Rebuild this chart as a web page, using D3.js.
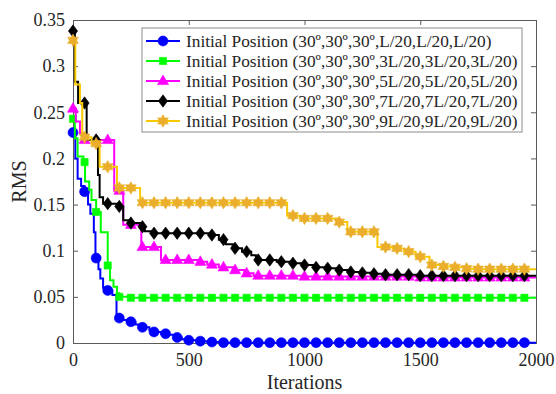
<!DOCTYPE html>
<html>
<head>
<meta charset="utf-8">
<script src="https://cdn.jsdelivr.net/npm/d3@7"></script>
<style>
  html, body { margin: 0; padding: 0; background: #fff; }
</style>
</head>
<body>
<svg id="chart" width="556" height="394" font-family="Liberation Serif" style="font-family: 'Liberation Serif'"></svg>
<script>
// Convergence of RMS error against iteration count for five starting poses.
// Each series is a best-so-far staircase: [iteration, RMS] at each drop.
const blueSteps = [
  [0, 0.228], [10, 0.200], [20, 0.178], [35, 0.170], [50, 0.164], [65, 0.150],
  [75, 0.140], [90, 0.120], [97, 0.092], [110, 0.080], [118, 0.070], [130, 0.060],
  [145, 0.057], [170, 0.052], [188, 0.027], [210, 0.025], [240, 0.023], [270, 0.020],
  [300, 0.017], [330, 0.014], [350, 0.012], [380, 0.010], [410, 0.009], [440, 0.006],
  [470, 0.004], [500, 0.003], [540, 0.002], [580, 0.001], [640, 0.0004]
];
const greenSteps = [
  [0, 0.243], [8, 0.222], [20, 0.202], [45, 0.196], [52, 0.175], [70, 0.166],
  [80, 0.155], [100, 0.142], [120, 0.120], [150, 0.084], [160, 0.068], [175, 0.061],
  [190, 0.054], [200, 0.050], [240, 0.049]
];
const magentaSteps = [
  [0, 0.254], [12, 0.240], [30, 0.227], [45, 0.220], [178, 0.165], [217, 0.128],
  [295, 0.104], [380, 0.090], [540, 0.088], [580, 0.085], [630, 0.082], [690, 0.079],
  [740, 0.0755], [780, 0.073], [1000, 0.072], [1500, 0.071]
];
const blackSteps = [
  [0, 0.338], [8, 0.283], [22, 0.260], [59, 0.220], [108, 0.182], [115, 0.158],
  [130, 0.151], [190, 0.148], [217, 0.133], [245, 0.130], [290, 0.126], [310, 0.121],
  [340, 0.119], [600, 0.117], [630, 0.112], [660, 0.107], [690, 0.1026], [730, 0.099],
  [770, 0.095], [790, 0.090], [880, 0.088], [940, 0.0864], [990, 0.0845], [1040, 0.082],
  [1100, 0.081], [1140, 0.079], [1190, 0.077], [1240, 0.076], [1290, 0.075],
  [1350, 0.074], [1500, 0.073]
];
const yellowSteps = [
  [0, 0.328], [10, 0.280], [30, 0.260], [40, 0.223], [80, 0.216], [115, 0.191],
  [190, 0.168], [290, 0.152], [925, 0.138], [980, 0.135], [1140, 0.131], [1185, 0.1205],
  [1315, 0.104], [1380, 0.1025], [1430, 0.099], [1480, 0.0935], [1540, 0.0845],
  [1600, 0.083], [1640, 0.082], [1690, 0.0805], [1750, 0.080]
];
const seriesLabels = [
  "Initial Position (30º,30º,30º,L/20,L/20,L/20)",
  "Initial Position (30º,30º,30º,3L/20,3L/20,3L/20)",
  "Initial Position (30º,30º,30º,5L/20,5L/20,5L/20)",
  "Initial Position (30º,30º,30º,7L/20,7L/20,7L/20)",
  "Initial Position (30º,30º,30º,9L/20,9L/20,9L/20)"
];
const iterTicks = [0, 500, 1000, 1500, 2000];
const rmsTicks = [0, 0.05, 0.1, 0.15, 0.2, 0.25, 0.3, 0.35];
const rmsTickLabels = ["0", "0.05", "0.1", "0.15", "0.2", "0.25", "0.3", "0.35"];
const iterMax = 2000;
const markerEvery = 50;

const FONT = "Liberation Serif";
const textColor = "#262626";
const margin = { left: 73, right: 20, top: 20, bottom: 51 };
const W = 556, H = 394;
const svg = d3.select("#chart");
const x = d3.scaleLinear().domain([0, iterMax]).range([margin.left, W - margin.right]);
const y = d3.scaleLinear().domain([0, 0.35]).range([H - margin.bottom, margin.top]);
const x0 = x.range()[0], x1 = x.range()[1], y0 = y.range()[0], y1 = y.range()[1];

// marker shapes
function hexagram(r) {
  const pts = [];
  for (let i = 0; i < 12; i++) {
    const a = -Math.PI / 2 + i * Math.PI / 6;
    const rr = i % 2 === 0 ? r : r / Math.sqrt(3);
    pts.push([rr * Math.cos(a), rr * Math.sin(a)]);
  }
  return "M" + pts.map(p => p[0].toFixed(2) + "," + p[1].toFixed(2)).join("L") + "Z";
}
const markerPaths = {
  circle: "M5,0A5,5 0 1,1 -5,0A5,5 0 1,1 5,0Z",
  square: "M-3.6,-3.6H3.6V3.6H-3.6Z",
  triangle: "M0,-6L5.5,3.6L-5.5,3.6Z",
  diamond: "M0,-6.2L4.6,0L0,6.2L-4.6,0Z",
  star: hexagram(6.2)
};

const series = [
  { steps: blueSteps, line: "#0000ff", fill: "#0000ff", marker: "circle" },
  { steps: greenSteps, line: "#00ff00", fill: "#00ff00", marker: "square" },
  { steps: magentaSteps, line: "#ff00ff", fill: "#ff00ff", marker: "triangle" },
  { steps: blackSteps, line: "#000000", fill: "#000000", marker: "diamond" },
  { steps: yellowSteps, line: "#f8c800", fill: "#eaae2c", marker: "star" }
];

// text helper: every label carries its own font settings
function styleText(sel, size) {
  return sel.attr("font-family", FONT).style("font-family", FONT)
    .attr("font-size", size).style("font-size", size + "px").attr("fill", textColor);
}

// axes box, ticks pointing inward on all four sides
const axisColor = "#5a5a5a";
const gx = svg.append("g").attr("transform", `translate(0,${y0})`)
  .call(d3.axisBottom(x).tickValues(iterTicks).tickSize(-5).tickPadding(10).tickFormat(d3.format("d")));
const gxTop = svg.append("g").attr("transform", `translate(0,${y1})`)
  .call(d3.axisTop(x).tickValues(iterTicks).tickSize(-5).tickFormat(""));
const gy = svg.append("g").attr("transform", `translate(${x0},0)`)
  .call(d3.axisLeft(y).tickValues(rmsTicks).tickSize(-5).tickPadding(8)
    .tickFormat((d, i) => rmsTickLabels[i]));
const gyRight = svg.append("g").attr("transform", `translate(${x1},0)`)
  .call(d3.axisRight(y).tickValues(rmsTicks).tickSize(-5).tickFormat(""));
[gx, gxTop, gy, gyRight].forEach(g => {
  g.attr("font-family", FONT).attr("font-size", 18);
  g.select(".domain").attr("stroke", axisColor).attr("stroke-width", 1);
  g.selectAll(".tick line").attr("stroke", axisColor);
  styleText(g.selectAll("text"), 18);
});

// series lines and markers
const plot = svg.append("g");
const bis = d3.bisector(d => d[0]).right;
const valueAt = (steps, t) => steps[Math.max(0, bis(steps, t) - 1)][1];
const markerIters = d3.range(0, iterMax, markerEvery);
const lineGen = d3.line().x(d => x(d[0])).y(d => y(d[1])).curve(d3.curveStepAfter);

series.forEach(s => {
  const pts = s.steps.concat([[iterMax, s.steps[s.steps.length - 1][1]]]);
  plot.append("path").attr("d", lineGen(pts))
    .attr("fill", "none").attr("stroke", s.line).attr("stroke-width", 2);
  plot.append("g").selectAll("path").data(markerIters).join("path")
    .attr("transform", t => `translate(${x(t)},${y(valueAt(s.steps, t))})`)
    .attr("d", markerPaths[s.marker])
    .attr("fill", s.fill).attr("stroke", s.fill).attr("stroke-width", 0.6);
});

// axis titles
styleText(svg.append("text"), 20).attr("x", (x0 + x1) / 2).attr("y", 389)
  .attr("text-anchor", "middle").text("Iterations");
styleText(svg.append("text"), 20).attr("transform", `translate(26,${(y0 + y1) / 2}) rotate(-90)`)
  .attr("text-anchor", "middle").text("RMS");

// legend
const lg = svg.append("g");
const lgX = 142, lgY = 28, lgW = 380, lgH = 104, rowH = 20;
lg.append("rect").attr("x", lgX).attr("y", lgY).attr("width", lgW).attr("height", lgH)
  .attr("fill", "#fff").attr("stroke", "#8c8c8c").attr("stroke-width", 1);
series.forEach((s, i) => {
  const cy = lgY + 13 + i * rowH;
  lg.append("line").attr("x1", lgX + 4).attr("x2", lgX + 38).attr("y1", cy).attr("y2", cy)
    .attr("stroke", s.line).attr("stroke-width", 2);
  lg.append("path").attr("transform", `translate(${lgX + 21},${cy})`).attr("d", markerPaths[s.marker])
    .attr("fill", s.fill).attr("stroke", s.fill).attr("stroke-width", 0.6);
  styleText(lg.append("text"), 17.3).attr("x", lgX + 44).attr("y", cy + 5.5).text(seriesLabels[i]);
});
</script>
</body>
</html>
